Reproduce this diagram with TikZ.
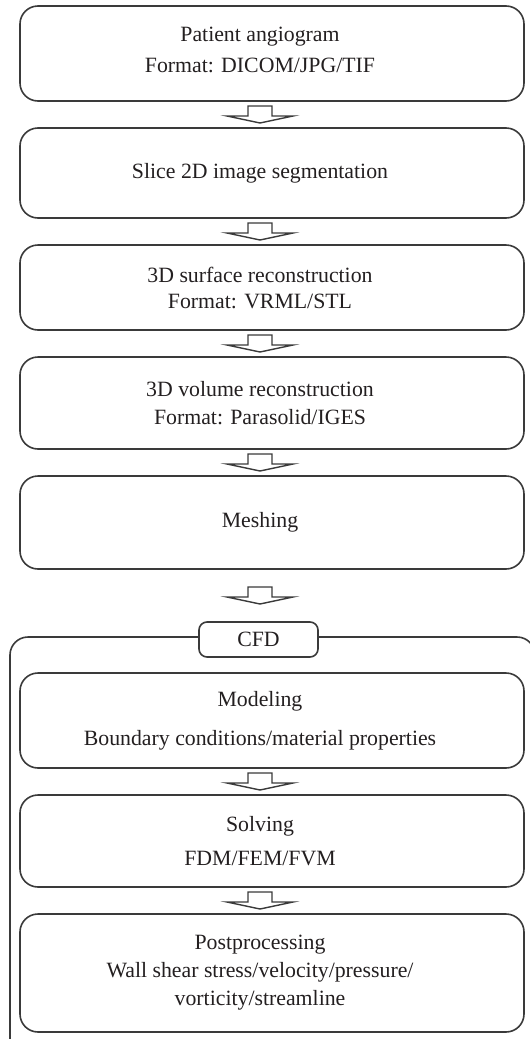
\documentclass[tikz,border=0pt]{standalone}
\usepackage{fontspec}
\setmainfont{Liberation Serif}
\usetikzlibrary{calc}
\definecolor{boxline}{HTML}{3A3A3A}
\definecolor{boxtext}{HTML}{231F20}
\tikzset{
	stagebox/.style={draw=boxline, line width=0.8pt, rounded corners=9pt, minimum width=252pt, inner sep=0pt},
	stagetext/.style={align=center, text=boxtext, font=\fontsize{10.9}{13}\selectfont, inner sep=0pt},
	hollow/.style={draw=boxline, line width=0.7pt, fill=white, line join=miter}
}
% hollow block arrow half way between two boxes
\newcommand{\stagearrow}[2]{%
	\coordinate (m) at ($(#1.south)!0.5!(#2.north)$);
	\draw[hollow] (m -| axis) ++(-12,-8.5) -- ++(0,10) -- ++(-21,0) -- ++(33,7) -- ++(33,-7) -- ++(-21,0) -- ++(0,-10) -- cycle;
}

\begin{document}
\begin{tikzpicture}[x=0.5pt, y=-0.5pt]
			%%%%% START %%%%%
			\useasboundingbox (0,0) rectangle (530,1039);
			\clip (0,0) rectangle (530,1039);
			\coordinate (axis) at (260,0);
			
			\node[stagebox, minimum height=47.5pt] (angio) at (272,53.5) {};
			\node[stagetext, yshift=2pt] (angio-t) at (angio.center -| axis) {Patient angiogram\\[2.5pt]Format: DICOM/JPG/TIF};
			
			\node[stagebox, minimum height=45pt] (slice) at (272,173) {};
			\node[stagetext] (slice-t) at (slice.center -| axis) {Slice 2D image segmentation};
			
			\node[stagebox, minimum height=42.5pt] (surface) at (272,287.5) {};
			\node[stagetext] (surface-t) at (surface.center -| axis) {3D surface reconstruction\\Format: VRML/STL};
			
			\node[stagebox, minimum height=46pt] (volume) at (272,403) {};
			\node[stagetext] (volume-t) at (volume.center -| axis) {3D volume reconstruction\\[1pt]Format: Parasolid/IGES};
			
			\node[stagebox, minimum height=46.5pt] (mesh) at (272,522.5) {};
			\node[stagetext] (mesh-t) at (mesh.center -| axis) {Meshing};
			
			% CFD group
			\draw[draw=boxline, line width=0.8pt, rounded corners=9pt] (10,637) rectangle (535,1070);
			\node[draw=boxline, line width=0.8pt, rounded corners=4pt, fill=white, minimum width=59.5pt, minimum height=17.5pt, inner sep=0pt, text=boxtext, font=\fontsize{10.9}{13}\selectfont] (cfd) at (258.5,639.5) {CFD};
			
			\node[stagebox, minimum height=47.5pt] (model) at (272,720.5) {};
			\node[stagetext] (model-t) at (model.center -| axis) {Modeling\\[6.5pt]Boundary conditions/material properties};
			
			\node[stagebox, minimum height=46pt] (solve) at (272,841) {};
			\node[stagetext] (solve-t) at (solve.center -| axis) {Solving\\[4pt]FDM/FEM/FVM};
			
			\node[stagebox, minimum height=59pt] (post) at (272,973) {};
			\node[stagetext] (post-t) at (post.center -| axis) {Postprocessing\\[1pt]Wall shear stress/velocity/pressure/\\[1pt]vorticity/streamline};
			
			\stagearrow{angio}{slice}
			\stagearrow{slice}{surface}
			\stagearrow{surface}{volume}
			\stagearrow{volume}{mesh}
			\stagearrow{mesh}{cfd}
			\stagearrow{model}{solve}
			\stagearrow{solve}{post}
			%%%%% END %%%%%
\end{tikzpicture}
\end{document}
